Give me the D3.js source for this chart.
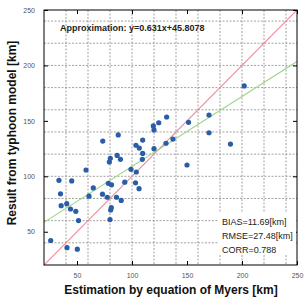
<!DOCTYPE html>
<html><head><meta charset="utf-8">
<script src="https://cdn.jsdelivr.net/npm/d3@7"></script>
<style>body{margin:0;background:#fff}svg{display:block;font-family:"Liberation Sans",Arial,Helvetica,sans-serif}</style>
</head><body>
<script>
const xVals = [26.1,40.9,50.3,33.6,45.2,58.2,35.0,35.6,40.7,44.1,48.9,51.4,64.8,60.9,73.2,78.5,81.4,77.5,85.9,90.2,81.2,80.6,80.0,79.4,80.3,86.5,89.5,93.4,99.1,103.2,103.9,106.4,109.7,109.4,73.4,87.5,103.6,106.6,109.7,119.4,120.0,124.3,131.5,120.0,130.9,137.2,151.4,150.0,170.0,170.0,189.5,202.0];
const yVals = [42.1,35.6,34.3,96.4,95.8,105.7,84.2,73.5,75.3,70.5,68.4,60.1,89.5,82.1,83.9,93.7,92.3,81.1,81.1,78.2,71.7,69.6,61.0,112.9,116.2,118.8,115.3,94.7,106.3,94.1,103.9,88.8,120.6,115.3,131.8,137.3,128.0,125.5,132.7,145.4,141.8,148.3,153.5,124.9,129.8,133.6,148.7,110.2,155.3,139.3,129.1,181.5];
const tickVals = [50,100,150,200,250];
const gridVals = [40,60,80,100,120,140,160,180,200,220,240];
const fitSlope = 0.631, fitIntercept = 45.8078;
const titleText = "Approximation: y=0.631x+45.8078";
const statsText = ["BIAS=11.69[km]","RMSE=27.48[km]","CORR=0.788"];
const xLabel = "Estimation by equation of Myers [km]";
const yLabel = "Result from typhoon model [km]";

const W=307,H=303, L=44, R=297, T=10, B=265;
const svg=d3.select("body").append("svg").attr("width",W).attr("height",H);
const x=d3.scaleLinear().domain([20,250]).range([L,R]);
const y=d3.scaleLinear().domain([20,250]).range([B,T]);

const g=svg.append("g");
// grid
g.selectAll(".gx").data(gridVals).join("line").attr("x1",d=>x(d)).attr("x2",d=>x(d)).attr("y1",T).attr("y2",B)
 .attr("stroke","#8a8a8a").attr("stroke-width",0.8).attr("stroke-dasharray","2,1.5");
g.selectAll(".gy").data(gridVals).join("line").attr("y1",d=>y(d)).attr("y2",d=>y(d)).attr("x1",L).attr("x2",R)
 .attr("stroke","#8a8a8a").attr("stroke-width",0.8).attr("stroke-dasharray","2,1.5");

// lines
svg.append("clipPath").attr("id","c").append("rect").attr("x",L).attr("y",T).attr("width",R-L).attr("height",B-T);
g.append("line").attr("clip-path","url(#c)").attr("x1",x(20)).attr("y1",y(20)).attr("x2",x(250)).attr("y2",y(250))
 .attr("stroke","#ec8a96").attr("stroke-width",1.1);
g.append("line").attr("clip-path","url(#c)").attr("x1",x(20)).attr("y1",y(fitSlope*20+fitIntercept)).attr("x2",x(250)).attr("y2",y(fitSlope*250+fitIntercept))
 .attr("stroke","#9ed58a").attr("stroke-width",1.1);

// points
g.selectAll("circle").data(xVals.map((v,i)=>[v,yVals[i]])).join("circle")
 .attr("cx",d=>x(d[0])).attr("cy",d=>y(d[1])).attr("r",2.6).attr("fill","#2a5ca8");

// axes with inside ticks
const fmt=d3.format("d");
const ax=(gen,tr)=>{const a=svg.append("g").attr("transform",tr).call(gen);a.select(".domain").remove();
 a.selectAll("text").attr("fill","#555").style("font-size","7px");a.selectAll("line").attr("stroke","#000");return a;};
ax(d3.axisBottom(x).tickValues(tickVals).tickSizeInner(-4).tickPadding(8).tickFormat(fmt),`translate(0,${B})`);
ax(d3.axisLeft(y).tickValues(tickVals).tickSizeInner(-4).tickPadding(9).tickFormat(fmt),`translate(${L},0)`);
ax(d3.axisTop(x).tickValues(tickVals).tickSizeInner(-4).tickFormat(""),`translate(0,${T})`);
ax(d3.axisRight(y).tickValues(tickVals).tickSizeInner(-4).tickFormat(""),`translate(${R},0)`);

svg.append("rect").attr("x",L).attr("y",T).attr("width",R-L).attr("height",B-T).attr("fill","none").attr("stroke","#000").attr("stroke-width",1);

// texts
svg.append("text").attr("x",60).attr("y",31).attr("font-weight","bold").attr("font-size","9px").attr("fill","#222").text(titleText);
const sb=svg.append("g");
sb.append("rect").attr("x",219).attr("y",213).attr("width",77).attr("height",42).attr("fill","#fff");
sb.selectAll("text").data(statsText).join("text").attr("x",222).attr("y",(d,i)=>225+i*14)
 .attr("font-size","9px").attr("fill","#222").text(d=>d);
svg.append("text").attr("x",171).attr("y",294).attr("text-anchor","middle").attr("font-weight","bold").attr("font-size","12px").attr("fill","#111").text(xLabel);
svg.append("text").attr("transform","translate(16,133) rotate(-90)").attr("text-anchor","middle").attr("font-weight","bold").attr("font-size","12px").attr("fill","#111").text(yLabel);
</script>
</body></html>
